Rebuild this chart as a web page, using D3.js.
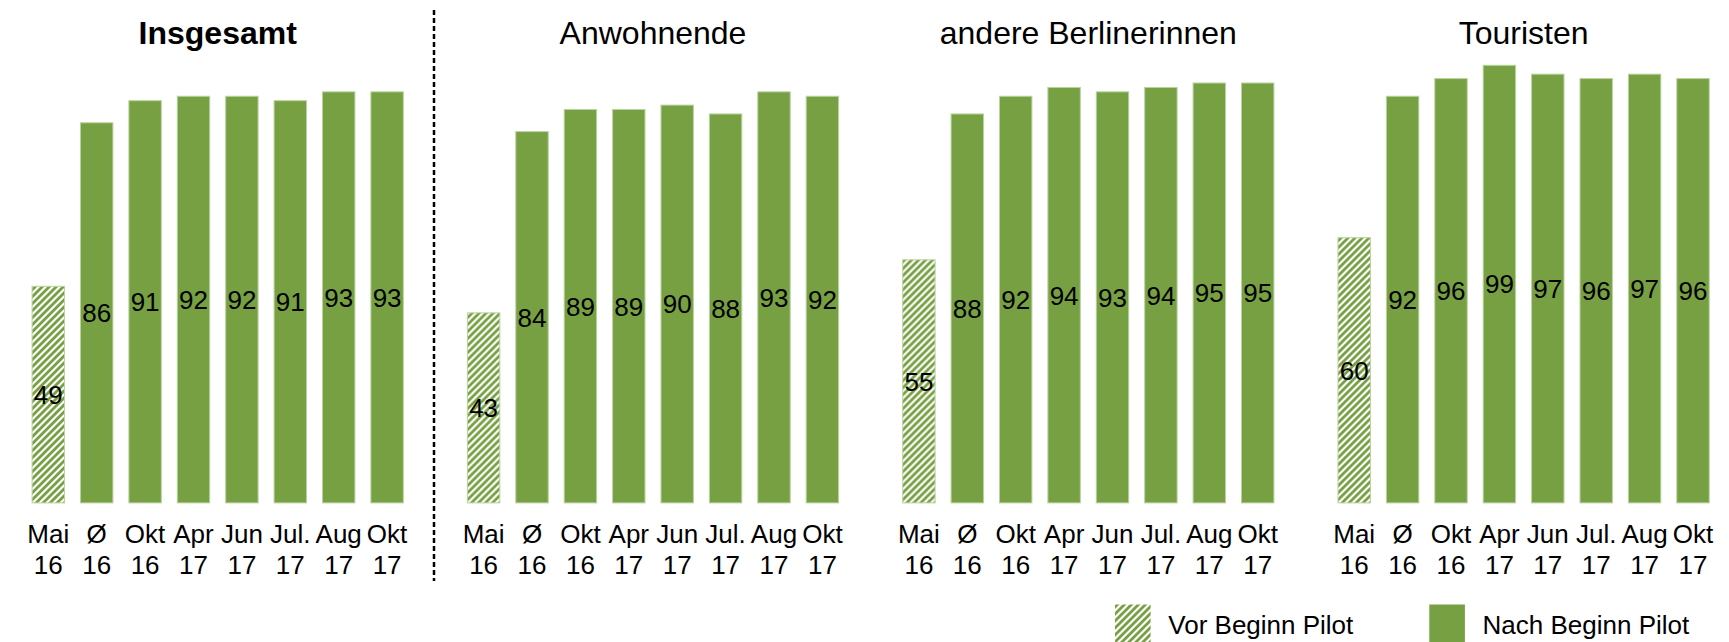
<!doctype html>
<html lang="de">
<head>
<meta charset="utf-8">
<title>Zufriedenheit vor und nach Beginn Pilot</title>
<script src="https://cdn.jsdelivr.net/npm/d3@7"></script>
<style>
    body { margin: 0; background: #fff; }
    svg { display: block; font-family: "Liberation Sans", Arial, sans-serif; }
    .bar { stroke: #b9d3a0; stroke-width: 1; }
    .cat, .val { font-size: 26px; fill: #000; }
    .title { font-size: 32px; fill: #000; }
    .legend text { font-size: 26px; fill: #000; }
</style>
</head>
<body>
<svg width="1729" height="642"></svg>
<script>
// data
var months = ["Mai", "Ø", "Okt", "Apr", "Jun", "Jul.", "Aug", "Okt"];
var years  = ["16", "16", "16", "17", "17", "17", "17", "17"];
var panels = ["Insgesamt", "Anwohnende", "andere Berlinerinnen", "Touristen"];
var insgesamt  = [49, 86, 91, 92, 92, 91, 93, 93];
var anwohnende = [43, 84, 89, 89, 90, 88, 93, 92];
var andere     = [55, 88, 92, 94, 93, 94, 95, 95];
var touristen  = [60, 92, 96, 99, 97, 96, 97, 96];
var series = [insgesamt, anwohnende, andere, touristen];
var legendNames = ["Vor Beginn Pilot", "Nach Beginn Pilot"];

var green = "#77a043";

var svg = d3.select("svg");

// hatch pattern for the "vor" bars
var defs = svg.append("defs");
var pat = defs.append("pattern")
    .attr("id", "hatch")
    .attr("patternUnits", "userSpaceOnUse")
    .attr("width", 7)
    .attr("height", 7);
pat.append("rect").attr("width", 7).attr("height", 7).attr("fill", "#fff");
pat.append("path")
    .attr("d", "M-1,1 l2,-2 M0,7 l7,-7 M6,8 l2,-2")
    .attr("stroke", green)
    .attr("stroke-width", 2.8);

var panelWidth = 435.3;

var x = d3.scaleBand()
    .domain(d3.range(months.length))
    .range([24.1, 411.3])
    .paddingInner(0.33)
    .paddingOuter(0.165);

var y = d3.scaleLinear()
    .domain([0, 100])
    .range([502.9, 60.9]);

series.forEach(function(vals, p) {
    var g = svg.append("g")
        .attr("transform", "translate(" + (p * panelWidth) + ",0)");

    g.append("text")
        .attr("class", "title")
        .attr("x", (x.range()[0] + x.range()[1]) / 2)
        .attr("y", 44)
        .attr("text-anchor", "middle")
        .style("font-weight", p == 0 ? "bold" : "normal")
        .text(panels[p]);

    g.selectAll(".bar")
        .data(vals)
        .enter().append("rect")
        .attr("class", "bar")
        .attr("x", function(d, i) { return x(i); })
        .attr("width", x.bandwidth())
        .attr("y", function(d) { return y(d); })
        .attr("height", function(d) { return y(0) - y(d); })
        .attr("fill", function(d, i) { return i == 0 ? "url(#hatch)" : green; });

    g.selectAll(".val")
        .data(vals)
        .enter().append("text")
        .attr("class", "val")
        .attr("text-anchor", "middle")
        .attr("x", function(d, i) { return x(i) + x.bandwidth() / 2; })
        .attr("y", function(d) { return (y(d) + y(0)) / 2; })
        .attr("dy", "0.36em")
        .text(function(d) { return d; });

    var cat = g.selectAll(".cat")
        .data(months)
        .enter().append("text")
        .attr("class", "cat")
        .attr("text-anchor", "middle")
        .attr("x", function(d, i) { return x(i) + x.bandwidth() / 2; })
        .attr("y", 542.6);
    cat.append("tspan").text(function(d) { return d; });
    cat.append("tspan")
        .attr("x", function(d, i) { return x(i) + x.bandwidth() / 2; })
        .attr("y", 574)
        .text(function(d, i) { return years[i]; });
});

// dashed separator after "Insgesamt"
svg.append("line")
    .attr("x1", 434).attr("x2", 434)
    .attr("y1", 10).attr("y2", 581)
    .attr("stroke", "#000")
    .attr("stroke-width", 2.5)
    .attr("stroke-dasharray", "5,3");

// legend
var legend = svg.append("g").attr("class", "legend");
var legendX = [1115, 1429.3];
legendNames.forEach(function(name, i) {
    legend.append("rect")
        .attr("x", legendX[i])
        .attr("y", 604.5)
        .attr("width", 35.6)
        .attr("height", 40)
        .attr("fill", i == 0 ? "url(#hatch)" : green);
    legend.append("text")
        .attr("x", legendX[i] + 53.3)
        .attr("y", 634)
        .text(name);
});
</script>
</body>
</html>
